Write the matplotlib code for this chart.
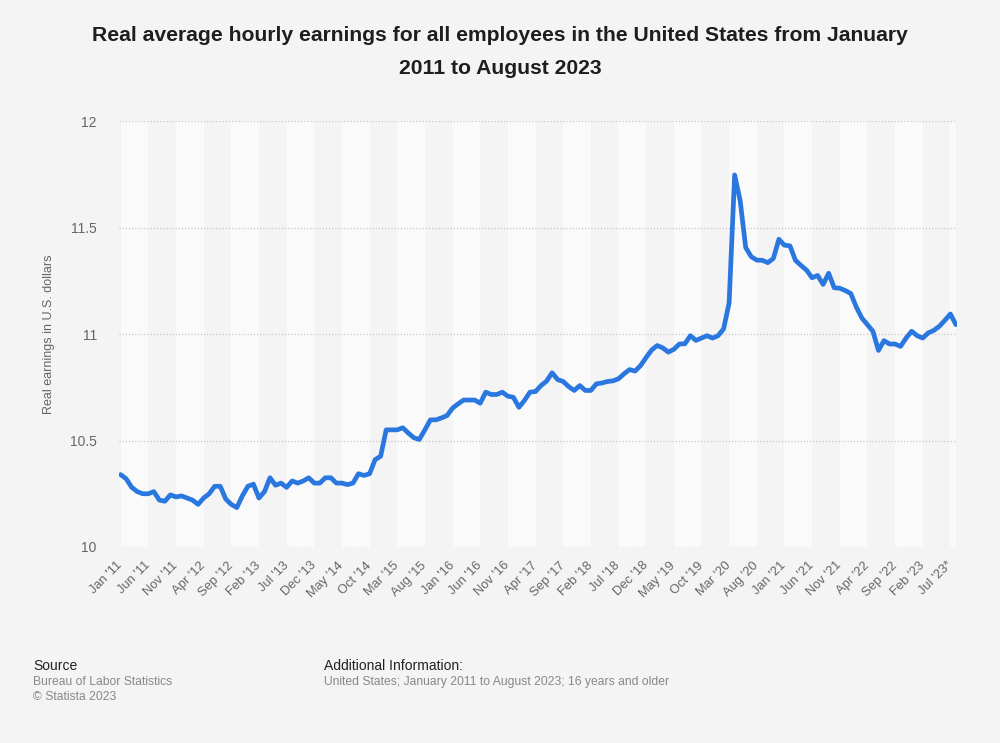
import matplotlib
matplotlib.use("Agg")
from matplotlib import pyplot as plt

plt.rcParams['font.family'] = ['Liberation Sans', 'DejaVu Sans']

# monthly values, Jan 2011 .. Aug 2023
earnings = [
    10.34, 10.32, 10.28, 10.26, 10.25, 10.25, 10.26, 10.22, 10.215, 10.245,
    10.235, 10.24, 10.23, 10.22, 10.20, 10.23, 10.25, 10.285, 10.285, 10.225,
    10.20, 10.185, 10.24, 10.285, 10.295, 10.23, 10.26, 10.325, 10.29, 10.30,
    10.28, 10.31, 10.30, 10.31, 10.325, 10.30, 10.30, 10.325, 10.325, 10.30,
    10.30, 10.293, 10.30, 10.344, 10.336, 10.344, 10.41, 10.426, 10.55, 10.55,
    10.55, 10.56, 10.535, 10.513, 10.505, 10.55, 10.597, 10.597, 10.606, 10.617,
    10.652, 10.672, 10.69, 10.69, 10.69, 10.675, 10.727, 10.716, 10.716, 10.727,
    10.708, 10.703, 10.656, 10.688, 10.727, 10.73, 10.758, 10.779, 10.818, 10.786,
    10.777, 10.753, 10.735, 10.758, 10.735, 10.735, 10.766, 10.77, 10.777, 10.78,
    10.79, 10.813, 10.833, 10.826, 10.852, 10.89, 10.925, 10.946, 10.935, 10.915,
    10.928, 10.953, 10.954, 10.992, 10.97, 10.981, 10.992, 10.981, 10.992, 11.024,
    11.146, 11.747, 11.626, 11.406, 11.363, 11.347, 11.346, 11.335, 11.355, 11.445,
    11.417, 11.414, 11.346, 11.322, 11.30, 11.264, 11.275, 11.233, 11.285, 11.217,
    11.215, 11.204, 11.19, 11.126, 11.075, 11.044, 11.013, 10.923, 10.969, 10.953,
    10.953, 10.942, 10.981, 11.013, 10.992, 10.981, 11.005, 11.017, 11.036, 11.064,
    11.094, 11.044,
]

tick_labels = [
    "Jan '11", "Jun '11", "Nov '11", "Apr '12", "Sep '12", "Feb '13", "Jul '13",
    "Dec '13", "May '14", "Oct '14", "Mar '15", "Aug '15", "Jan '16", "Jun '16",
    "Nov '16", "Apr '17", "Sep '17", "Feb '18", "Jul '18", "Dec '18", "May '19",
    "Oct '19", "Mar '20", "Aug '20", "Jan '21", "Jun '21", "Nov '21", "Apr '22",
    "Sep '22", "Feb '23", "Jul '23*",
]
y_ticks = [10, 10.5, 11, 11.5, 12]
y_tick_labels = ["10", "10.5", "11", "11.5", "12"]

months = list(range(len(earnings)))
tick_pos = [i * 5 for i in range(len(tick_labels))]

bg = '#f4f4f4'
fig = plt.figure(figsize=(10, 7.43), dpi=100, facecolor=bg)
ax = fig.add_axes([0.119, 0.2638, 0.838, 0.5733])
ax.set_facecolor(bg)

# alternating bands between ticks
for k, start in enumerate(tick_pos):
    if k % 2 == 0:
        ax.axvspan(start, min(start + 5, len(earnings) - 1), color='#fafafa', lw=0, zorder=0)

for yt in y_ticks:
    ax.axhline(yt, color='#c8c8c8', lw=0.9, ls=(0, (1, 1.5)), zorder=1)

ax.plot(months, earnings, color='#2a78df', lw=3.4, solid_joinstyle='round',
        solid_capstyle='round', zorder=3)

ax.set_xlim(-0.3, len(earnings) - 1 + 0.2)
ax.set_ylim(10, 12)
ax.set_yticks(y_ticks)
ax.set_yticklabels(y_tick_labels, color='#666666', fontsize=10)
ax.set_xticks(tick_pos)
ax.set_xticklabels(tick_labels, rotation=45, ha='right', va='center',
                   rotation_mode='anchor', color='#666666', fontsize=9.3)
ax.tick_params(axis='both', length=0)
ax.tick_params(axis='y', pad=16)
ax.tick_params(axis='x', pad=12)
for s in ax.spines.values():
    s.set_visible(False)

ax.set_ylabel('Real earnings in U.S. dollars', color='#666666', fontsize=9)
ax.yaxis.set_label_coords(-0.0764, 0.5)

fig.text(0.5, 0.952, 'Real average hourly earnings for all employees in the United States from January',
         ha='center', va='center', fontsize=15.2, fontweight='bold', color='#1e1e1e')
fig.text(0.5, 0.908, '2011 to August 2023',
         ha='center', va='center', fontsize=15.2, fontweight='bold', color='#1e1e1e')

fig.text(0.033, 0.1036, 'Source', fontsize=10, color='#222222', va='center')
fig.text(0.033, 0.0821, 'Bureau of Labor Statistics', fontsize=8.7, color='#888888', va='center')
fig.text(0.033, 0.0619, '\u00a9 Statista 2023', fontsize=8.7, color='#888888', va='center')
fig.text(0.324, 0.1036, 'Additional Information:', fontsize=10, color='#222222', va='center')
fig.text(0.324, 0.0821, 'United States; January 2011 to August 2023; 16 years and older',
         fontsize=8.7, color='#888888', va='center')

fig.savefig('out.png', dpi=100, facecolor=bg)
